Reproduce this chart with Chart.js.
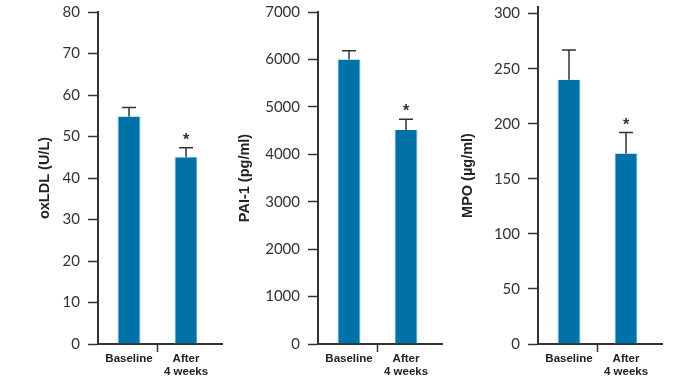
<!DOCTYPE html>
<html>
<head>
<meta charset="utf-8">
<script src="https://cdn.jsdelivr.net/npm/chart.js@4"></script>
<style>
  body { margin: 0; background: #fff; }
  #wrap { position: relative; width: 700px; height: 385px; overflow: hidden; }
  .panel { position: absolute; top: 0; width: 230px; height: 385px; }
</style>
</head>
<body>
<div id="wrap">
  <div class="panel" style="left:0px"><canvas id="c1" width="230" height="385"></canvas></div>
  <div class="panel" style="left:220px"><canvas id="c2" width="230" height="385"></canvas></div>
  <div class="panel" style="left:440px"><canvas id="c3" width="230" height="385"></canvas></div>
</div>
<script>
// categories shared by all three panels
const categories = ['Baseline', ['After', '4 weeks']];
const significance = ['', '*'];

// oxLDL (U/L)
const oxldlMean = [54.8, 45.0];
const oxldlSd = [2.2, 2.3];
const oxldlTicks = [0, 10, 20, 30, 40, 50, 60, 70, 80];

// PAI-1 (pg/ml)
const paiMean = [6000, 4510];
const paiSd = [185, 230];
const paiTicks = [0, 1000, 2000, 3000, 4000, 5000, 6000, 7000];

// MPO (µg/ml)
const mpoMean = [240, 173];
const mpoSd = [27, 19];
const mpoTicks = [0, 50, 100, 150, 200, 250, 300];

const BAR_COLOR = '#0072a8';
const INK = '#333333';

// upper error bars + significance star, placed with the y scale
const errorBars = {
    id: 'errorBars',
    afterDatasetsDraw(chart, args, opts) {
        const ctx = chart.ctx;
        const yScale = chart.scales.y;
        const values = chart.data.datasets[0].data;
        const meta = chart.getDatasetMeta(0);
        ctx.save();
        ctx.strokeStyle = INK;
        ctx.lineWidth = 1.5;
        meta.data.forEach((bar, i) => {
            const top = yScale.getPixelForValue(values[i] + opts.sd[i]);
            ctx.beginPath();
            ctx.moveTo(bar.x, bar.y);
            ctx.lineTo(bar.x, top);
            ctx.moveTo(bar.x - 7, top);
            ctx.lineTo(bar.x + 7, top);
            ctx.stroke();
            if (opts.marks[i]) {
                ctx.fillStyle = INK;
                ctx.font = 'bold 16px "Liberation Sans", Arial, sans-serif';
                ctx.textAlign = 'center';
                ctx.textBaseline = 'alphabetic';
                ctx.fillText(opts.marks[i], bar.x, top - 3);
            }
        });
        ctx.restore();
    }
};

function makePanel(id, title, means, sd, ticks, max, topPad, titlePad) {
    new Chart(document.getElementById(id), {
        type: 'bar',
        data: {
            labels: categories,
            datasets: [{
                data: means,
                backgroundColor: BAR_COLOR,
                borderColor: '#5aa8d3',
                borderWidth: { left: 1, right: 1, top: 0, bottom: 0 },
                barPercentage: 0.4,
                categoryPercentage: 1
            }]
        },
        options: {
            responsive: false,
            animation: false,
            events: [],
            layout: { padding: { top: topPad, right: 8, bottom: 0, left: 0 } },
            plugins: {
                legend: { display: false },
                tooltip: { enabled: false },
                errorBars: { sd: sd, marks: significance }
            },
            scales: {
                x: {
                    offset: true,
                    afterBuildTicks: function(scale) {
                        // bars sit a little left of the axis centre in the original
                        scale._startValue = -0.544;
                        scale._valueRange = 2.175;
                    },
                    afterFit: function(scale) {
                        scale.height = 41;
                        scale.paddingLeft = 0;
                        scale.paddingRight = 0;
                    },
                    border: { display: true, color: INK, width: 2 },
                    grid: {
                        offset: true,
                        drawOnChartArea: false,
                        tickLength: 8,
                        tickWidth: 1.5,
                        color: 'transparent',
                        tickColor: ctx => ctx.index === 1 ? INK : 'transparent'
                    },
                    ticks: {
                        maxRotation: 0,
                        padding: 0,
                        color: '#222',
                        font: { family: '"Liberation Sans", Arial, sans-serif', size: 11.5, weight: 'bold', lineHeight: 1.15 }
                    }
                },
                y: {
                    min: 0,
                    max: max,
                    afterBuildTicks: function(scale) {
                        scale.ticks = ticks.map(v => ({ value: v }));
                    },
                    afterFit: function(scale) {
                        scale.width = 98;
                        scale.paddingTop = 0;
                        scale.paddingBottom = 0;
                    },
                    border: { display: true, color: INK, width: 2 },
                    grid: {
                        drawOnChartArea: false,
                        tickLength: 10,
                        tickWidth: 1.5,
                        tickColor: INK
                    },
                    ticks: {
                        padding: 8,
                        color: '#333',
                        font: { family: 'Lato, "Open Sans", sans-serif', size: 15 },
                        callback: v => String(v)
                    },
                    title: {
                        display: true,
                        text: title,
                        color: '#222',
                        padding: { top: titlePad, bottom: 0 },
                        font: { family: '"Liberation Sans", Arial, sans-serif', size: 14.5, weight: 'bold', lineHeight: 1.2 }
                    }
                }
            }
        },
        plugins: [errorBars]
    });
}

makePanel('c1', 'oxLDL (U/L)', oxldlMean, oxldlSd, oxldlTicks, 80, 12, 36);
makePanel('c2', 'PAI-1 (pg/ml)', paiMean, paiSd, paiTicks, 7000, 12, 16);
makePanel('c3', 'MPO (µg/ml)', mpoMean, mpoSd, mpoTicks, 306, 7, 19);
</script>
</body>
</html>
